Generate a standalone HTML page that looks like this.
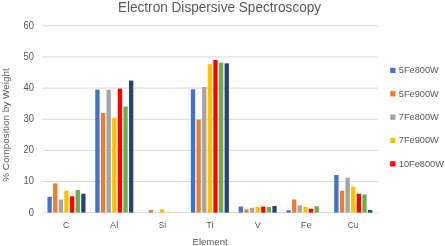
<!DOCTYPE html><html><head><meta charset="utf-8"><style>
html,body{margin:0;padding:0;background:#fff;width:445px;height:246px;overflow:hidden}
svg{display:block;will-change:transform;filter:blur(0.55px)}text{font-family:"Liberation Sans",sans-serif;fill:#595959}
</style></head><body>
<svg width="445" height="246" viewBox="0 0 445 246">
<rect width="445" height="246" fill="#fff"/>
<line x1="42.40" y1="25.80" x2="378.00" y2="25.80" stroke="#d9d9d9" stroke-width="1"/>
<line x1="42.40" y1="56.95" x2="378.00" y2="56.95" stroke="#d9d9d9" stroke-width="1"/>
<line x1="42.40" y1="88.10" x2="378.00" y2="88.10" stroke="#d9d9d9" stroke-width="1"/>
<line x1="42.40" y1="119.25" x2="378.00" y2="119.25" stroke="#d9d9d9" stroke-width="1"/>
<line x1="42.40" y1="150.40" x2="378.00" y2="150.40" stroke="#d9d9d9" stroke-width="1"/>
<line x1="42.40" y1="181.55" x2="378.00" y2="181.55" stroke="#d9d9d9" stroke-width="1"/>
<line x1="42.40" y1="212.70" x2="378.00" y2="212.70" stroke="#d9d9d9" stroke-width="1"/>
<text transform="translate(34.00 28.94) scale(0.920 1)" font-size="10.2" text-anchor="end">60</text>
<text transform="translate(34.00 59.94) scale(0.920 1)" font-size="10.2" text-anchor="end">50</text>
<text transform="translate(34.00 90.94) scale(0.920 1)" font-size="10.2" text-anchor="end">40</text>
<text transform="translate(34.00 121.94) scale(0.920 1)" font-size="10.2" text-anchor="end">30</text>
<text transform="translate(34.00 152.94) scale(0.920 1)" font-size="10.2" text-anchor="end">20</text>
<text transform="translate(34.00 184.14) scale(0.920 1)" font-size="10.2" text-anchor="end">10</text>
<text transform="translate(34.00 215.94) scale(0.920 1)" font-size="10.2" text-anchor="end">0</text>
<rect x="47.49" y="196.85" width="4.32" height="15.75" fill="#4472C4"/>
<rect x="53.11" y="183.45" width="4.32" height="29.15" fill="#ED7D31"/>
<rect x="58.73" y="199.55" width="4.32" height="13.05" fill="#A5A5A5"/>
<rect x="64.35" y="190.75" width="4.32" height="21.85" fill="#FFC000"/>
<rect x="69.97" y="196.15" width="4.32" height="16.45" fill="#FF0000"/>
<rect x="75.59" y="189.95" width="4.32" height="22.65" fill="#70AD47"/>
<rect x="81.21" y="193.75" width="4.32" height="18.85" fill="#264478"/>
<rect x="95.28" y="89.65" width="4.32" height="122.95" fill="#4472C4"/>
<rect x="100.90" y="113.05" width="4.32" height="99.55" fill="#ED7D31"/>
<rect x="106.52" y="89.65" width="4.32" height="122.95" fill="#A5A5A5"/>
<rect x="112.14" y="117.75" width="4.32" height="94.85" fill="#FFC000"/>
<rect x="117.76" y="88.65" width="4.32" height="123.95" fill="#FF0000"/>
<rect x="123.38" y="106.55" width="4.32" height="106.05" fill="#70AD47"/>
<rect x="129.00" y="80.55" width="4.32" height="132.05" fill="#264478"/>
<rect x="148.69" y="209.95" width="4.32" height="2.65" fill="#ED7D31"/>
<rect x="159.93" y="209.35" width="4.32" height="3.25" fill="#FFC000"/>
<rect x="190.86" y="89.35" width="4.32" height="123.25" fill="#4472C4"/>
<rect x="196.48" y="119.65" width="4.32" height="92.95" fill="#ED7D31"/>
<rect x="202.10" y="86.95" width="4.32" height="125.65" fill="#A5A5A5"/>
<rect x="207.72" y="64.15" width="4.32" height="148.45" fill="#FFC000"/>
<rect x="213.34" y="59.95" width="4.32" height="152.65" fill="#FF0000"/>
<rect x="218.96" y="62.55" width="4.32" height="150.05" fill="#70AD47"/>
<rect x="224.58" y="63.35" width="4.32" height="149.25" fill="#264478"/>
<rect x="238.65" y="206.55" width="4.32" height="6.05" fill="#4472C4"/>
<rect x="244.27" y="209.35" width="4.32" height="3.25" fill="#ED7D31"/>
<rect x="249.89" y="207.75" width="4.32" height="4.85" fill="#A5A5A5"/>
<rect x="255.51" y="206.95" width="4.32" height="5.65" fill="#FFC000"/>
<rect x="261.13" y="206.55" width="4.32" height="6.05" fill="#FF0000"/>
<rect x="266.75" y="206.95" width="4.32" height="5.65" fill="#70AD47"/>
<rect x="272.37" y="206.05" width="4.32" height="6.55" fill="#264478"/>
<rect x="286.44" y="210.25" width="4.32" height="2.35" fill="#4472C4"/>
<rect x="292.06" y="199.45" width="4.32" height="13.15" fill="#ED7D31"/>
<rect x="297.68" y="205.35" width="4.32" height="7.25" fill="#A5A5A5"/>
<rect x="303.30" y="206.85" width="4.32" height="5.75" fill="#FFC000"/>
<rect x="308.92" y="208.65" width="4.32" height="3.95" fill="#FF0000"/>
<rect x="314.54" y="206.25" width="4.32" height="6.35" fill="#70AD47"/>
<rect x="334.23" y="174.95" width="4.32" height="37.65" fill="#4472C4"/>
<rect x="339.85" y="190.65" width="4.32" height="21.95" fill="#ED7D31"/>
<rect x="345.47" y="177.65" width="4.32" height="34.95" fill="#A5A5A5"/>
<rect x="351.09" y="186.55" width="4.32" height="26.05" fill="#FFC000"/>
<rect x="356.71" y="193.75" width="4.32" height="18.85" fill="#FF0000"/>
<rect x="362.33" y="194.35" width="4.32" height="18.25" fill="#70AD47"/>
<rect x="367.95" y="210.05" width="4.32" height="2.55" fill="#264478"/>
<text transform="translate(66.05 227.90) scale(0.890 1)" font-size="9.6" text-anchor="middle">C</text>
<text transform="translate(114.25 227.90) scale(0.970 1)" font-size="9.6" text-anchor="middle">Al</text>
<text transform="translate(162.40 227.90) scale(0.865 1)" font-size="9.6" text-anchor="middle">Si</text>
<text transform="translate(210.00 227.90) scale(0.955 1)" font-size="9.6" text-anchor="middle">Ti</text>
<text transform="translate(257.90 227.90) scale(0.955 1)" font-size="9.6" text-anchor="middle">V</text>
<text transform="translate(306.25 227.90) scale(0.990 1)" font-size="9.6" text-anchor="middle">Fe</text>
<text transform="translate(352.97 227.90) scale(0.855 1)" font-size="9.6" text-anchor="middle">Cu</text>
<text transform="translate(219.50 11.70) scale(0.938 1)" font-size="14.5" text-anchor="middle">Electron Dispersive Spectroscopy</text>
<text transform="translate(210.10 244.60)" font-size="9.6" text-anchor="middle">Element</text>
<text transform="translate(9.30 125.00) rotate(-90)" font-size="9.95" text-anchor="middle">% Composition by Weight</text>
<rect x="390.20" y="67.75" width="5.3" height="5.3" fill="#4472C4"/>
<text transform="translate(398.80 73.30) scale(0.940 1)" font-size="9.8">5Fe800W</text>
<rect x="390.20" y="91.11" width="5.3" height="5.3" fill="#ED7D31"/>
<text transform="translate(398.80 96.66) scale(0.940 1)" font-size="9.8">5Fe900W</text>
<rect x="390.20" y="114.47" width="5.3" height="5.3" fill="#A5A5A5"/>
<text transform="translate(398.80 120.02) scale(0.940 1)" font-size="9.8">7Fe800W</text>
<rect x="390.20" y="137.83" width="5.3" height="5.3" fill="#FFC000"/>
<text transform="translate(398.80 143.38) scale(0.940 1)" font-size="9.8">7Fe900W</text>
<rect x="390.20" y="161.19" width="5.3" height="5.3" fill="#FF0000"/>
<text transform="translate(398.80 166.74) scale(0.940 1)" font-size="9.8">10Fe800W</text>
</svg></body></html>
